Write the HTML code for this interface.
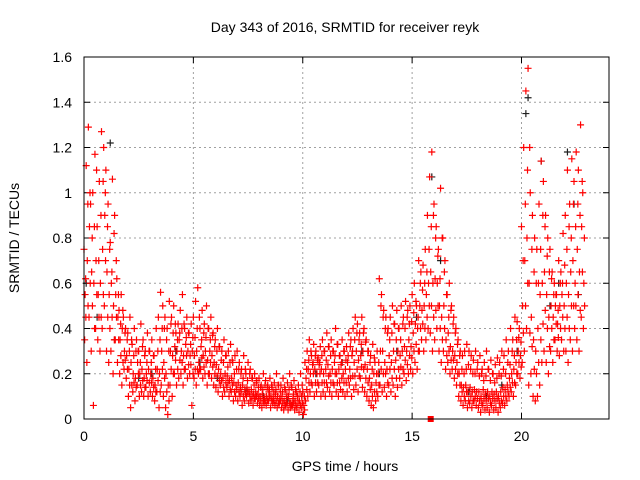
<!DOCTYPE html>
<html><head><meta charset="utf-8">
<style>
body{margin:0;background:#fff;}
svg{display:block;font-family:"Liberation Sans",sans-serif;}
</style></head>
<body>
<svg id="chart" width="640" height="480" viewBox="0 0 640 480" xmlns="http://www.w3.org/2000/svg">
<rect x="0" y="0" width="640" height="480" fill="#fff"/>
<text x="345" y="32" text-anchor="middle" font-size="14" fill="#000">Day 343 of 2016, SRMTID for receiver reyk</text>
<text x="345" y="471" text-anchor="middle" font-size="14" fill="#000">GPS time / hours</text>
<text transform="translate(19,238) rotate(-90)" text-anchor="middle" font-size="14" fill="#000">SRMTID / TECUs</text>
<g id="grid"></g>
<g id="ticks"></g>
<g id="marks"></g>
<rect x="84" y="57" width="525" height="362" fill="none" stroke="#000" stroke-width="1"/>
</svg>
<script>
const xTicks=[0,5,10,15,20];
const yTicks=[0,0.2,0.4,0.6,0.8,1,1.2,1.4,1.6];
const yTickLabels=["0","0.2","0.4","0.6","0.8","1","1.2","1.4","1.6"];
const seriesStart=0, seriesStep=0.1;
const redUpper=[0.75,1.12,1.29,0.95,1.0,1.17,0.85,1.05,1.27,1.2,
1.1,0.95,0.78,1.06,0.9,0.62,0.48,0.55,0.45,0.4,
0.38,0.45,0.33,0.4,0.35,0.3,0.42,0.35,0.3,0.38,
0.3,0.35,0.28,0.4,0.45,0.56,0.5,0.45,0.4,0.52,
0.45,0.5,0.38,0.42,0.48,0.55,0.4,0.45,0.38,0.42,
0.45,0.52,0.58,0.4,0.48,0.42,0.5,0.4,0.45,0.38,
0.35,0.4,0.32,0.3,0.35,0.28,0.3,0.33,0.25,0.28,
0.3,0.25,0.22,0.28,0.2,0.25,0.22,0.18,0.2,0.17,
0.18,0.15,0.2,0.17,0.15,0.18,0.14,0.16,0.2,0.15,
0.15,0.18,0.13,0.16,0.2,0.14,0.17,0.12,0.15,0.2,
0.12,0.25,0.3,0.35,0.28,0.33,0.3,0.27,0.32,0.35,
0.3,0.38,0.32,0.35,0.3,0.4,0.33,0.28,0.35,0.3,
0.32,0.38,0.35,0.4,0.45,0.42,0.38,0.45,0.4,0.35,
0.3,0.28,0.33,0.25,0.3,0.62,0.55,0.48,0.45,0.4,
0.45,0.5,0.42,0.48,0.4,0.5,0.45,0.52,0.48,0.5,
0.55,0.6,0.5,0.7,0.65,0.68,0.75,0.9,1.07,1.18,
0.95,0.85,0.75,1.02,0.8,0.7,0.55,0.6,0.5,0.45,
0.4,0.35,0.3,0.28,0.3,0.33,0.3,0.28,0.26,0.3,
0.25,0.28,0.22,0.25,0.3,0.22,0.26,0.2,0.24,0.27,
0.25,0.3,0.28,0.35,0.3,0.4,0.35,0.45,0.43,0.4,
0.85,1.2,1.45,1.55,1.0,0.9,0.8,0.75,0.95,1.14,
1.05,0.9,0.8,0.75,0.65,0.6,0.55,0.7,0.65,0.82,
0.9,1.1,0.95,1.15,1.05,1.18,1.1,1.3,1.0];
const redLower=[0.35,0.25,0.45,0.3,0.06,0.4,0.35,0.3,0.4,0.5,
0.3,0.25,0.3,0.2,0.35,0.25,0.2,0.15,0.22,0.18,
0.1,0.05,0.12,0.08,0.15,0.1,0.12,0.1,0.14,0.1,
0.12,0.1,0.08,0.12,0.05,0.15,0.1,0.05,0.02,0.15,
0.1,0.2,0.15,0.18,0.2,0.15,0.22,0.18,0.2,0.06,
0.18,0.15,0.2,0.22,0.18,0.2,0.15,0.2,0.18,0.15,
0.14,0.12,0.15,0.1,0.12,0.14,0.1,0.12,0.08,0.1,
0.08,0.1,0.06,0.08,0.1,0.07,0.08,0.06,0.09,0.07,
0.06,0.05,0.07,0.06,0.08,0.05,0.07,0.06,0.05,0.07,
0.05,0.04,0.06,0.04,0.05,0.06,0.04,0.05,0.03,0.05,
0.02,0.08,0.1,0.12,0.15,0.1,0.12,0.15,0.1,0.12,
0.1,0.14,0.12,0.1,0.15,0.12,0.1,0.13,0.12,0.1,
0.12,0.15,0.1,0.13,0.15,0.12,0.18,0.14,0.12,0.1,
0.08,0.06,0.05,0.08,0.1,0.15,0.12,0.14,0.1,0.15,
0.12,0.15,0.1,0.14,0.18,0.15,0.2,0.17,0.2,0.22,
0.2,0.25,0.22,0.3,0.35,0.3,0.35,0.4,0.38,0.3,
0.35,0.4,0.3,0.25,0.3,0.22,0.25,0.2,0.22,0.18,
0.15,0.1,0.08,0.06,0.08,0.05,0.07,0.05,0.08,0.06,
0.05,0.03,0.06,0.04,0.05,0.03,0.06,0.04,0.05,0.03,
0.05,0.07,0.06,0.08,0.1,0.12,0.1,0.15,0.2,0.18,
0.25,0.3,0.4,0.15,0.2,0.1,0.08,0.1,0.15,0.25,
0.3,0.25,0.2,0.3,0.25,0.35,0.3,0.28,0.35,0.3,
0.3,0.25,0.35,0.3,0.4,0.35,0.3,0.45,0.4];
const redMid=[0.55,0.7,0.85,0.65,0.6,0.7,0.55,0.6,0.75,0.9,
0.65,0.55,0.6,0.5,0.55,0.45,0.35,0.4,0.3,0.28,
0.22,0.25,0.2,0.18,0.25,0.2,0.22,0.18,0.2,0.22,
0.2,0.18,0.15,0.22,0.2,0.3,0.25,0.2,0.15,0.3,
0.28,0.32,0.3,0.35,0.3,0.28,0.33,0.3,0.28,0.3,
0.28,0.3,0.25,0.32,0.28,0.3,0.26,0.3,0.28,0.25,
0.24,0.22,0.2,0.18,0.2,0.19,0.17,0.18,0.16,0.15,
0.16,0.14,0.15,0.13,0.14,0.12,0.13,0.11,0.12,0.11,
0.1,0.11,0.09,0.1,0.12,0.1,0.09,0.11,0.1,0.09,
0.1,0.08,0.09,0.1,0.07,0.09,0.08,0.1,0.08,0.1,
0.06,0.18,0.22,0.2,0.24,0.22,0.2,0.24,0.22,0.2,
0.22,0.24,0.2,0.22,0.25,0.2,0.22,0.24,0.2,0.22,
0.25,0.22,0.28,0.25,0.3,0.26,0.28,0.3,0.24,0.22,
0.18,0.15,0.2,0.16,0.2,0.3,0.3,0.25,0.22,0.28,
0.25,0.3,0.26,0.3,0.28,0.3,0.32,0.3,0.35,0.32,
0.38,0.42,0.4,0.5,0.48,0.5,0.55,0.6,0.65,0.6,
0.62,0.6,0.5,0.45,0.5,0.35,0.38,0.32,0.3,0.28,
0.25,0.2,0.15,0.14,0.15,0.12,0.14,0.12,0.13,0.12,
0.12,0.1,0.13,0.11,0.12,0.1,0.12,0.11,0.12,0.1,
0.12,0.14,0.13,0.15,0.18,0.2,0.22,0.25,0.3,0.28,
0.5,0.7,0.8,0.6,0.45,0.35,0.3,0.4,0.55,0.6,
0.65,0.55,0.45,0.5,0.45,0.5,0.42,0.5,0.55,0.5,
0.6,0.55,0.65,0.7,0.6,0.75,0.65,0.85,0.6];
const redUpperMid=[0.62,0.95,1.0,0.8,0.85,1.1,0.7,0.9,1.05,1.0,
0.85,0.75,0.65,0.82,0.7,0.55,0.42,0.48,0.38,0.35,
0.3,0.35,0.28,0.3,0.3,0.25,0.32,0.28,0.25,0.3,
0.25,0.28,0.22,0.3,0.35,0.4,0.4,0.35,0.3,0.42,
0.38,0.42,0.35,0.38,0.4,0.42,0.36,0.38,0.33,0.36,
0.36,0.4,0.45,0.35,0.38,0.36,0.4,0.35,0.37,0.32,
0.3,0.32,0.26,0.25,0.28,0.23,0.25,0.26,0.2,0.22,
0.22,0.2,0.18,0.22,0.17,0.2,0.18,0.15,0.16,0.14,
0.14,0.13,0.15,0.14,0.13,0.15,0.12,0.13,0.15,0.12,
0.12,0.14,0.11,0.13,0.15,0.11,0.13,0.1,0.12,0.15,
0.1,0.22,0.26,0.3,0.25,0.28,0.26,0.25,0.28,0.3,
0.26,0.32,0.28,0.3,0.28,0.33,0.28,0.25,0.3,0.26,
0.28,0.32,0.3,0.35,0.38,0.35,0.33,0.38,0.34,0.3,
0.25,0.22,0.27,0.2,0.25,0.5,0.45,0.4,0.38,0.35,
0.38,0.42,0.35,0.4,0.35,0.42,0.4,0.45,0.42,0.43,
0.47,0.52,0.45,0.6,0.57,0.6,0.65,0.75,0.85,0.9,
0.8,0.72,0.62,0.8,0.65,0.55,0.45,0.48,0.42,0.38,
0.33,0.28,0.22,0.2,0.22,0.24,0.22,0.2,0.2,0.22,
0.19,0.2,0.17,0.19,0.22,0.17,0.2,0.16,0.18,0.2,
0.19,0.22,0.2,0.25,0.24,0.3,0.28,0.35,0.36,0.34,
0.7,0.95,1.1,1.2,0.75,0.65,0.6,0.6,0.75,0.9,
0.85,0.72,0.65,0.62,0.55,0.55,0.48,0.6,0.6,0.68,
0.75,0.85,0.8,0.95,0.85,0.95,0.9,1.05,0.8];
const redLowerMid=[0.45,0.5,0.6,0.5,0.4,0.55,0.45,0.45,0.55,0.7,
0.45,0.4,0.45,0.35,0.45,0.35,0.28,0.25,0.26,0.22,
0.15,0.15,0.16,0.14,0.2,0.15,0.17,0.14,0.17,0.16,
0.16,0.14,0.12,0.17,0.12,0.22,0.18,0.12,0.08,0.22,
0.2,0.26,0.22,0.26,0.25,0.22,0.28,0.24,0.24,0.2,
0.22,0.22,0.22,0.27,0.23,0.25,0.2,0.25,0.23,0.2,
0.19,0.17,0.17,0.14,0.16,0.16,0.13,0.15,0.12,0.13,
0.12,0.12,0.1,0.11,0.12,0.1,0.1,0.09,0.1,0.09,
0.08,0.08,0.08,0.08,0.1,0.08,0.08,0.08,0.07,0.08,
0.07,0.06,0.07,0.07,0.06,0.07,0.06,0.07,0.06,0.07,
0.04,0.13,0.16,0.16,0.2,0.16,0.16,0.2,0.16,0.16,
0.16,0.19,0.16,0.16,0.2,0.16,0.16,0.18,0.16,0.16,
0.18,0.18,0.19,0.19,0.22,0.19,0.23,0.22,0.18,0.16,
0.13,0.1,0.12,0.12,0.15,0.22,0.2,0.2,0.16,0.22,
0.18,0.22,0.18,0.22,0.23,0.22,0.26,0.24,0.28,0.27,
0.3,0.33,0.3,0.4,0.42,0.4,0.45,0.5,0.5,0.45,
0.48,0.5,0.4,0.35,0.4,0.28,0.3,0.26,0.26,0.22,
0.2,0.15,0.12,0.1,0.12,0.08,0.1,0.08,0.1,0.09,
0.08,0.07,0.09,0.08,0.09,0.07,0.09,0.08,0.09,0.07,
0.08,0.1,0.1,0.12,0.14,0.16,0.16,0.2,0.25,0.23,
0.38,0.5,0.6,0.38,0.32,0.22,0.2,0.25,0.35,0.42,
0.48,0.4,0.32,0.4,0.35,0.42,0.36,0.4,0.45,0.4,
0.45,0.4,0.5,0.5,0.5,0.55,0.48,0.65,0.5];
const blackTimes=[0.1,0.6,1.2,1.4,2.5,3.1,4.2,5.3,6.1,7.4,8.2,9.3,10.6,11.8,12.7,13.5,14.3,15.2,15.9,16.3,17.6,18.4,19.1,19.8,20.2,20.3,20.9,21.3,21.7,22.1,22.4,22.6];
const blackValues=[0.6,0.45,1.22,0.35,0.18,0.2,0.3,0.25,0.18,0.12,0.1,0.08,0.2,0.25,0.3,0.2,0.3,0.45,1.07,0.7,0.12,0.1,0.15,0.3,1.35,1.42,1.14,0.5,0.6,1.18,0.95,0.55];
const squareTimes=[15.85];
const squareValues=[0];

const X0=84,X1=609,Y0=419,Y1=57,XMAX=24,YMAX=1.6;
function sx(v){return X0+(v/XMAX)*(X1-X0);}
function sy(v){return Y0-(v/YMAX)*(Y0-Y1);}
const NS="http://www.w3.org/2000/svg";
const grid=document.getElementById('grid');
const ticks=document.getElementById('ticks');
const marks=document.getElementById('marks');
function mk(tag,attrs,parent){const e=document.createElementNS(NS,tag);for(const k in attrs)e.setAttribute(k,attrs[k]);parent.appendChild(e);return e;}

xTicks.forEach(function(t){
  const x=sx(t);
  if(t>0){const g=mk('line',{x1:x,y1:Y0,x2:x,y2:Y1,stroke:'#a0a0a0','stroke-dasharray':'2,3','stroke-width':1},grid);
  
  }
  const tm=mk('path',{d:'M'+x+' '+Y0+'v-6M'+x+' '+Y1+'v6',stroke:'#000','stroke-width':1},grid);
  
  
  const l=mk('text',{x:x,y:Y0+22,'text-anchor':'middle','font-size':14,fill:'#000'},ticks);
  l.textContent=String(t);
  
  
});
yTicks.forEach(function(t,i){
  const y=sy(t);
  if(t>0&&t<YMAX){const g=mk('line',{x1:X0,y1:y,x2:X1,y2:y,stroke:'#a0a0a0','stroke-dasharray':'2,3','stroke-width':1},grid);
  
  }
  const tm=mk('path',{d:'M'+X0+' '+y+'h6M'+X1+' '+y+'h-6',stroke:'#000','stroke-width':1},grid);
  
  
  const l=mk('text',{x:X0-12,y:y+5,'text-anchor':'end','font-size':14,fill:'#000'},ticks);
  l.textContent=yTickLabels[i];
  
  
});
function plus(x,y,color,name){
  const p=mk('path',{d:'M'+(x-3.5)+' '+y+'h7M'+x+' '+(y-3.5)+'v7',stroke:color,'stroke-width':1.2,fill:'none'},marks);
  
  
}
blackTimes.forEach(function(t,i){plus(sx(t),sy(blackValues[i]),'#202020','black-point');});
[[redUpper,0],[redLower,0.03],[redMid,0.05],[redUpperMid,0.075],[redLowerMid,0.085]].forEach(function(s){
  s[0].forEach(function(v,i){plus(sx(seriesStart+i*seriesStep+s[1]),sy(v),'#ff0000','red-point');});
});
squareTimes.forEach(function(t,i){
  const r=mk('rect',{x:sx(t)-3,y:sy(squareValues[i])-3,width:6,height:6,fill:'#ff0000'},marks);
  
  
});
</script>
</body></html>
